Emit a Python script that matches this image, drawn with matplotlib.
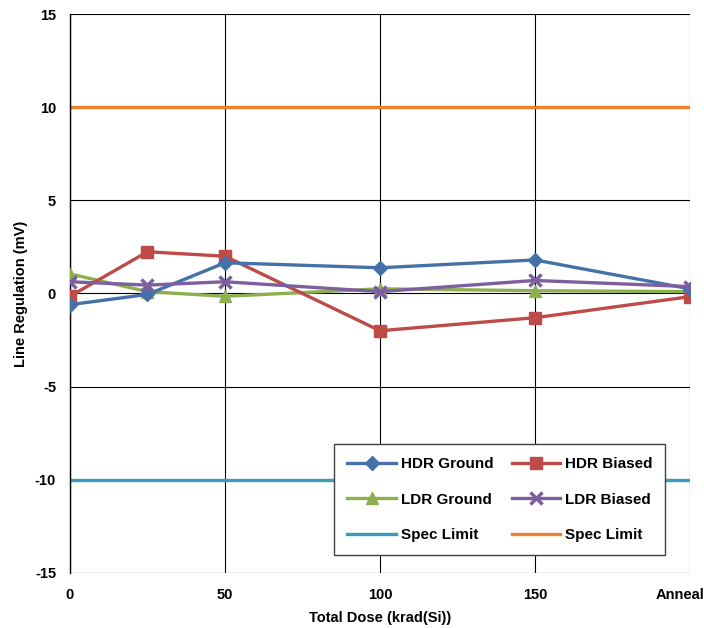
import matplotlib
matplotlib.use("Agg")
import matplotlib.pyplot as plt
from matplotlib.transforms import ScaledTranslation

# x positions: 0, 25, 50, 100, 150 krad and the anneal step
dose = [0, 25, 50, 100, 150, 200]
tick_pos = [0, 50, 100, 150, 200]
tick_lbl = ["0", "50", "100", "150", "Anneal"]
y_ticks = [-15, -10, -5, 0, 5, 10, 15]
y_lbl = ["-15", "-10", "-5", "0", "5", "10", "15"]

hdr_ground = [-0.6, -0.05, 1.65, 1.38, 1.8, 0.25]
hdr_biased = [-0.15, 2.24, 2.0, -2.0, -1.3, -0.17]
ldr_ground = [1.05, 0.1, -0.15, 0.25, 0.15, 0.1]
ldr_biased = [0.63, 0.45, 0.63, 0.1, 0.7, 0.37]
spec_low = -10
spec_high = 10

plt.rcParams["font.family"] = "Liberation Sans"
plt.rcParams["font.weight"] = "bold"

fig = plt.figure(figsize=(7.04, 6.28), dpi=100)
ax = fig.add_axes([0.0994, 0.0876, 0.8807, 0.8901])

lw = 2.4
h1, = ax.plot(dose, hdr_ground, color="#4472A8", lw=lw, marker="D", ms=7, label="HDR Ground", zorder=5)
h2, = ax.plot(dose, hdr_biased, color="#BE4B48", lw=lw, marker="s", ms=9, label="HDR Biased", zorder=4)
h3, = ax.plot(dose, ldr_ground, color="#8DB04F", lw=lw, marker="^", ms=9, label="LDR Ground", zorder=3)
h4, = ax.plot(dose, ldr_biased, color="#7D5FA0", lw=lw, marker="x", ms=8, mew=2.5, label="LDR Biased", zorder=6)
h5 = ax.axhline(spec_low, color="#3A9DB5", lw=lw, label="Spec Limit", zorder=2)
h6 = ax.axhline(spec_high, color="#EE8030", lw=lw, label="Spec Limit", zorder=2)

ax.set_xlim(0, 200)
ax.set_ylim(-15, 15)
ax.set_xticks(tick_pos)
ax.set_xticklabels(tick_lbl)
ax.set_yticks(y_ticks)
ax.set_yticklabels(y_lbl)
ax.tick_params(labelsize=10.5, length=0)
ax.tick_params(axis="x", pad=11)
ax.tick_params(axis="y", pad=10)
for lbl in ax.get_xticklabels() + ax.get_yticklabels():
    lbl.set_fontweight("bold")
# nudge "Anneal" left so it stays inside the figure
last = ax.get_xticklabels()[-1]
last.set_transform(last.get_transform() + ScaledTranslation(-0.1, 0, fig.dpi_scale_trans))

ax.grid(True, color="black", lw=0.8)
ax.set_axisbelow(True)
for s in ["top", "right", "bottom"]:
    ax.spines[s].set_visible(False)
ax.spines["left"].set_linewidth(1.0)

ax.set_xlabel("Total Dose (krad(Si))", fontsize=10.5, fontweight="bold", labelpad=6)
ax.set_ylabel("Line Regulation (mV)", fontsize=10.5, fontweight="bold", labelpad=5)

# matplotlib fills columns first, so order handles to read row by row
leg = ax.legend([h1, h3, h5, h2, h4, h6],
                ["HDR Ground", "LDR Ground", "Spec Limit", "HDR Biased", "LDR Biased", "Spec Limit"],
                ncol=2, loc="lower left", bbox_to_anchor=(0.426, 0.032),
                fontsize=11, frameon=True, fancybox=False,
                edgecolor="#404040", framealpha=1, handlelength=3.2,
                handletextpad=0.3, labelspacing=1.4, borderpad=0.85,
                columnspacing=1.2, borderaxespad=0)
leg.get_frame().set_linewidth(1.0)
for t in leg.get_texts():
    t.set_fontweight("bold")

fig.savefig("out.png", dpi=100)
